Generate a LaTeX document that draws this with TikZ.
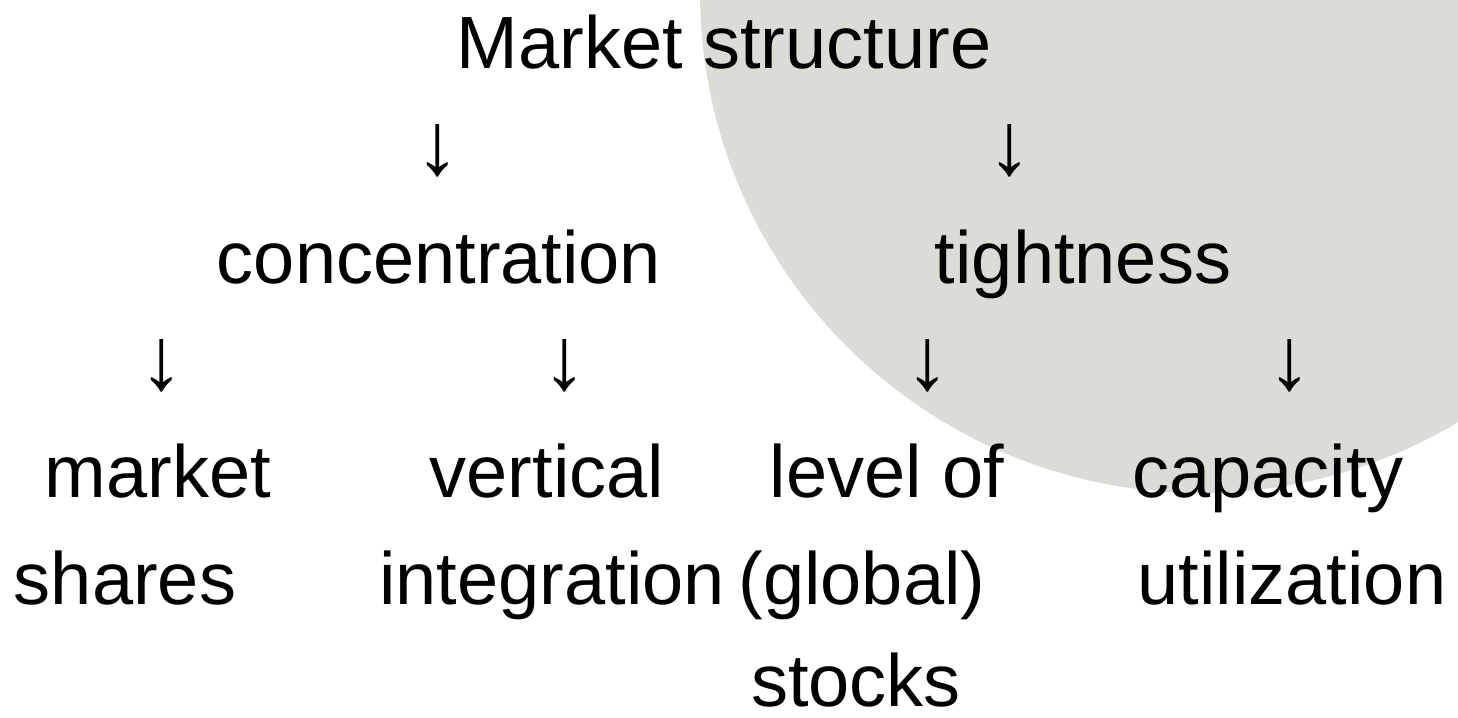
\documentclass[tikz,border=0pt]{standalone}
\usepackage{fontspec}
\setmainfont{Liberation Sans}
\definecolor{discgray}{RGB}{220,220,214}
\tikzset{
  lbl/.style={inner sep=0pt, outer sep=0pt, anchor=base, font=\fontsize{74}{80}\selectfont},
  arr/.style={inner sep=0pt, outer sep=0pt, anchor=base, font=\fontsize{89}{96}\selectfont}
}
\begin{document}
\begin{tikzpicture}[x=1pt,y=-1pt]
\useasboundingbox (0,0) rectangle (1458,717);
\begin{scope}
\clip (0,0) rectangle (1458,717);
\fill[discgray] (1201,-8) circle[radius=501pt];
\end{scope}
% row 1
\node[lbl] (ms) at (724,68) {Market structure};
\node[arr] (a1) at (438,174) {↓};
\node[arr] (a2) at (1010,174) {↓};
% row 2
\node[lbl] (conc) at (439,283) {concentration};
\node[lbl] (tight) at (1083,283) {tightness};
\node[arr] (b1) at (162,389) {↓};
\node[arr] (b2) at (565,389) {↓};
\node[arr] (b3) at (928,389) {↓};
\node[arr] (b4) at (1290,389) {↓};
% bottom rows
\node[lbl] (mkt) at (158,497) {market};
\node[lbl] (vert) at (547,497) {vertical};
\node[lbl] (lev) at (887,497) {level of};
\node[lbl] (cap) at (1268,497) {capacity};
\node[lbl] (sh) at (125,604) {shares};
\node[lbl] (integ) at (552,604) {integration};
\node[lbl] (glob) at (862,604) {(global)};
\node[lbl] (util) at (1292,604) {utilization};
\node[lbl] (st) at (856,706) {stocks};
\end{tikzpicture}
\end{document}
